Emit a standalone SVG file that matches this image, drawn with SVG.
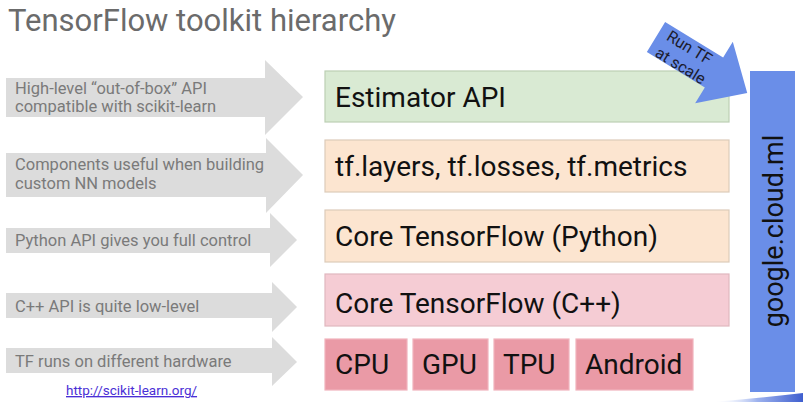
<svg xmlns="http://www.w3.org/2000/svg" width="803" height="402" viewBox="0 0 803 402">
<defs>
<style>
text{font-family:Roboto,"Liberation Sans",sans-serif}
.title{font-size:31px;fill:#6b6b6b}
.lbl{font-size:16.5px;fill:#7a7a7a}
.arr{fill:#dcdcdc}
.box{stroke-width:1.2}
.green{fill:#d9ead3;stroke:#bccfb4}
.peach{fill:#fce5d0;stroke:#dccbb9}
.pink{fill:#f5ccd4;stroke:#e0b7be}
.hw{fill:#ea9aa6;stroke:#f0b3bc}
.bt{font-size:28px;fill:#111}
.cloud{fill:#6a8ee8}
</style>
<linearGradient id="sw" x1="0" y1="0" x2="1" y2="0">
<stop offset="0" stop-color="#ffffff" stop-opacity="0"/>
<stop offset="0.5" stop-color="#9db2ee"/>
<stop offset="1" stop-color="#3f5fcf"/>
</linearGradient>
</defs>
<rect width="803" height="402" fill="#ffffff"/>
<text class="title" x="8" y="31">TensorFlow toolkit hierarchy</text>

<g id="connectors">
<polygon class="arr" points="6,78 265,78 265,60 303,97 265,135 265,117 6,117"/>
<polygon class="arr" points="6,153 266,153 266,138 303,175 266,213 266,197 6,197"/>
<polygon class="arr" points="6,228 270,228 270,213 297,240 270,267 270,253 6,253"/>
<polygon class="arr" points="6,293 272,293 272,282 297,307 272,332 272,318 6,318"/>
<polygon class="arr" points="6,348 272,348 272,337 297,362 272,386 272,373 6,373"/>
<text class="lbl" x="15" y="94">High-level “out-of-box” API</text>
<text class="lbl" x="15" y="112">compatible with scikit-learn</text>
<text class="lbl" x="15" y="170">Components useful when building</text>
<text class="lbl" x="15" y="189">custom NN models</text>
<text class="lbl" x="15" y="246">Python API gives you full control</text>
<text class="lbl" x="15" y="312">C++ API is quite low-level</text>
<text class="lbl" x="15" y="367">TF runs on different hardware</text>
</g>

<g id="estimator"><rect class="box green" x="325" y="71" width="404" height="51"/><text class="bt" x="335" y="107">Estimator API</text></g>
<g id="layers"><rect class="box peach" x="325" y="140" width="404" height="52"/><text class="bt" x="335" y="176">tf.layers, tf.losses, tf.metrics</text></g>
<g id="core-python"><rect class="box peach" x="325" y="210" width="404" height="52"/><text class="bt" x="335" y="246">Core TensorFlow (Python)</text></g>
<g id="core-cpp"><rect class="box pink" x="325" y="274" width="404" height="52"/><text class="bt" x="335" y="313">Core TensorFlow (C++)</text></g>
<g id="cpu"><rect class="box hw" x="325" y="339" width="82" height="51"/><text class="bt" x="335" y="374">CPU</text></g>
<g id="gpu"><rect class="box hw" x="413" y="339" width="75" height="51"/><text class="bt" x="422" y="374">GPU</text></g>
<g id="tpu"><rect class="box hw" x="494" y="339" width="75" height="51"/><text class="bt" x="503" y="374">TPU</text></g>
<g id="android"><rect class="box hw" x="576" y="339" width="117" height="51"/><text class="bt" x="585" y="374">Android</text></g>

<g id="cloud-ml"><rect class="cloud" x="750" y="71" width="45" height="321"/><text x="783" y="231" font-size="27" fill="#111" text-anchor="middle" transform="rotate(-90 783 231)">google.cloud.ml</text></g>

<g id="run-tf" transform="translate(656 37) rotate(31.5)">
<polygon class="cloud" points="0,-17.5 68,-17.5 68,-36 107,0 68,36 68,17.5 0,17.5"/>
<text x="34" y="-3" font-size="16" fill="#1c1c2e" text-anchor="middle">Run TF</text>
<text x="36" y="17" font-size="16" fill="#1c1c2e" text-anchor="middle">at scale</text>
</g>

<text x="66" y="395" font-size="13.5" fill="#4b2fd6" text-decoration="underline">http://scikit-learn.org/</text>
<path d="M712,402 Q760,398 803,393 L803,402 Z" fill="url(#sw)"/>
</svg>
